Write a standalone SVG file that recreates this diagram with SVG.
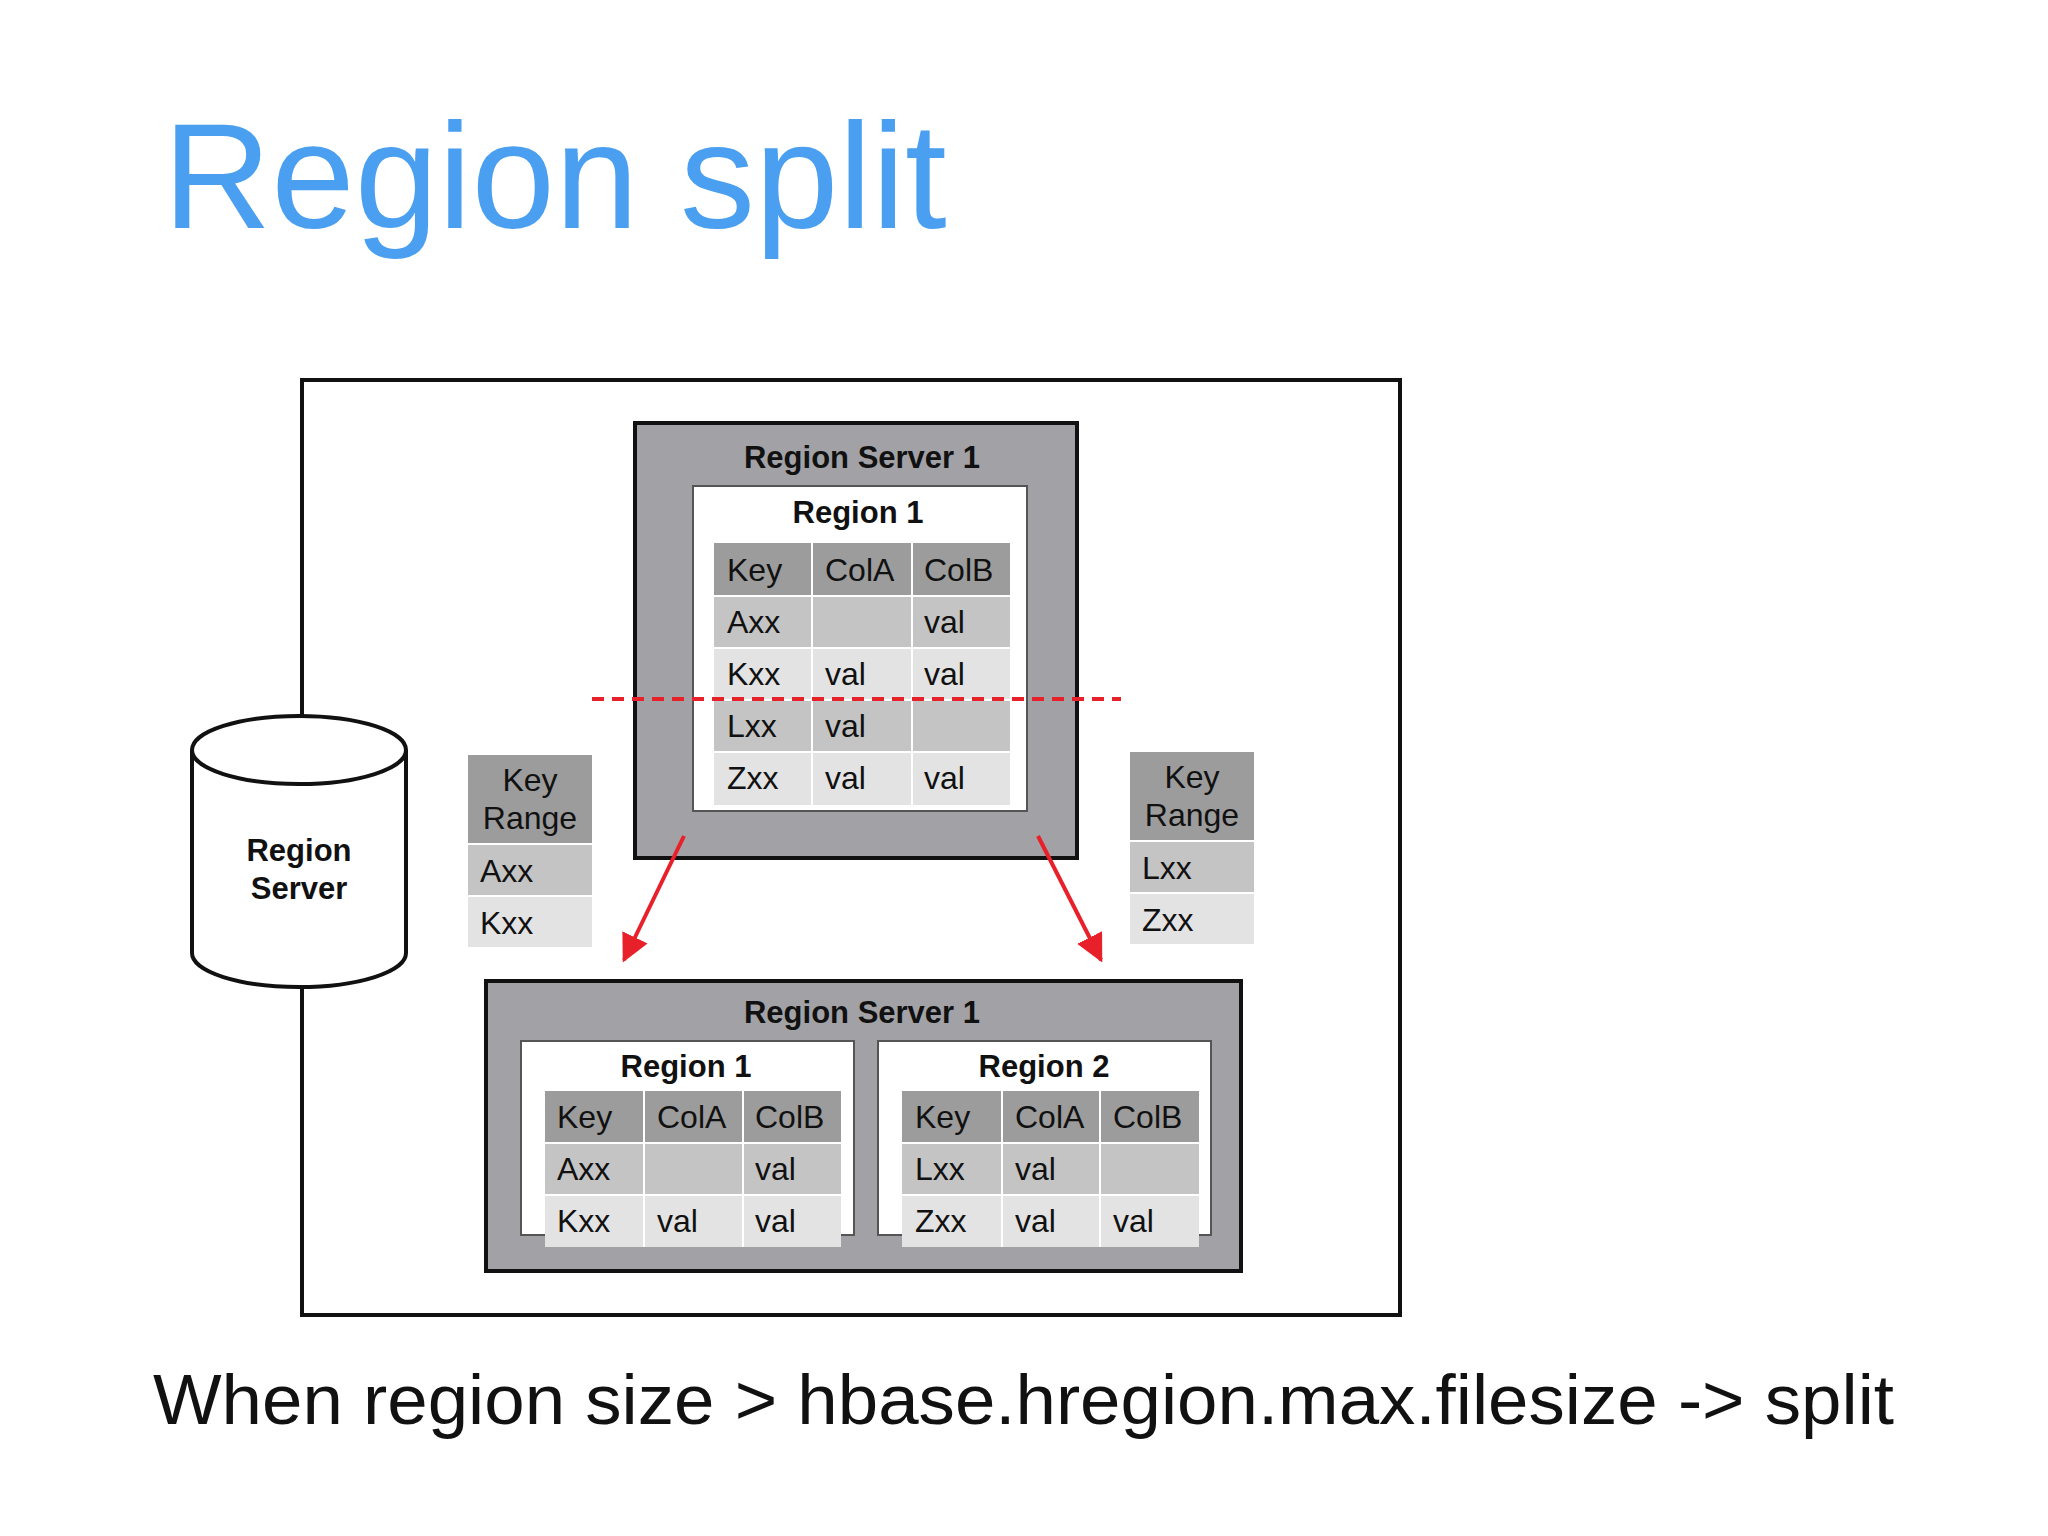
<svg xmlns="http://www.w3.org/2000/svg" width="2048" height="1536" viewBox="0 0 2048 1536">
<defs>
<style>
text{font-family:"Liberation Sans",Arial,sans-serif}
.b{font-weight:bold;font-size:31px;text-anchor:middle;fill:#111}
.c{font-size:32px;fill:#111}
.rs{fill:#a2a2a6;stroke:#111;stroke-width:4}
.wr{fill:#fff;stroke:#555;stroke-width:2}
.h{fill:#9c9c9c}.d{fill:#c4c4c4}.l{fill:#e3e3e3}
.g{stroke:#fff;stroke-width:2}
</style>
<marker id="ar" viewBox="0 0 10 10" refX="9" refY="5" markerWidth="7" markerHeight="7" orient="auto"><path d="M0,0L10,5L0,10z" fill="#e8202a"/></marker>
</defs>
<rect width="2048" height="1536" fill="#fff"/>
<text x="163" y="228" font-size="150" fill="#4a9ff0">Region split</text>
<rect id="frame" x="302" y="380" width="1098" height="935" fill="none" stroke="#111" stroke-width="4"/>
<g id="cyl">
<path d="M192,750 L192,953 A107,34 0 0 0 406,953 L406,750" fill="#fff" stroke="#111" stroke-width="4"/>
<ellipse cx="299" cy="750" rx="107" ry="34" fill="#fff" stroke="#111" stroke-width="4"/>
<text class="b" x="299" y="861">Region</text><text class="b" x="299" y="899">Server</text>
</g>
<g id="rs-top">
<rect class="rs" x="635" y="423" width="442" height="435"/>
<text class="b" x="862" y="468">Region Server 1</text>
<rect class="wr" x="693" y="486" width="334" height="325"/>
<text class="b" x="858" y="523">Region 1</text>
<rect class="h" x="714" y="543" width="296" height="53"/>
<rect class="d" x="714" y="596" width="296" height="52"/>
<rect class="l" x="714" y="648" width="296" height="52"/>
<rect class="d" x="714" y="700" width="296" height="52"/>
<rect class="l" x="714" y="752" width="296" height="53"/>
<path class="g" d="M812,543V805M912,543V805M714,596H1010M714,648H1010M714,700H1010M714,752H1010"/>
<g class="c"><text x="727" y="581">Key</text><text x="825" y="581">ColA</text><text x="924" y="581">ColB</text>
<text x="727" y="633">Axx</text><text x="924" y="633">val</text>
<text x="727" y="685">Kxx</text><text x="825" y="685">val</text><text x="924" y="685">val</text>
<text x="727" y="737">Lxx</text><text x="825" y="737">val</text>
<text x="727" y="789">Zxx</text><text x="825" y="789">val</text><text x="924" y="789">val</text></g>
</g>
<g id="kr-left">
<rect class="h" x="468" y="755" width="124" height="89"/><rect class="d" x="468" y="844" width="124" height="52"/><rect class="l" x="468" y="896" width="124" height="51"/>
<path class="g" d="M468,844H592M468,896H592"/>
<g class="c"><text x="530" y="791" text-anchor="middle">Key</text><text x="530" y="829" text-anchor="middle">Range</text><text x="480" y="882">Axx</text><text x="480" y="934">Kxx</text></g>
</g>
<g id="kr-right">
<rect class="h" x="1130" y="752" width="124" height="89"/><rect class="d" x="1130" y="841" width="124" height="52"/><rect class="l" x="1130" y="893" width="124" height="51"/>
<path class="g" d="M1130,841H1254M1130,893H1254"/>
<g class="c"><text x="1192" y="788" text-anchor="middle">Key</text><text x="1192" y="826" text-anchor="middle">Range</text><text x="1142" y="879">Lxx</text><text x="1142" y="931">Zxx</text></g>
</g>
<g id="rs-bottom">
<rect class="rs" x="486" y="981" width="755" height="290"/>
<text class="b" x="862" y="1023">Region Server 1</text>
<rect class="wr" x="521" y="1041" width="333" height="194"/>
<text class="b" x="686" y="1077">Region 1</text>
<rect class="h" x="545" y="1091" width="296" height="52"/><rect class="d" x="545" y="1143" width="296" height="52"/><rect class="l" x="545" y="1195" width="296" height="52"/>
<path class="g" d="M644,1091V1247M743,1091V1247M545,1143H841M545,1195H841"/>
<g class="c"><text x="557" y="1128">Key</text><text x="657" y="1128">ColA</text><text x="755" y="1128">ColB</text>
<text x="557" y="1180">Axx</text><text x="755" y="1180">val</text>
<text x="557" y="1232">Kxx</text><text x="657" y="1232">val</text><text x="755" y="1232">val</text></g>
<rect class="wr" x="878" y="1041" width="333" height="194"/>
<text class="b" x="1044" y="1077">Region 2</text>
<rect class="h" x="902" y="1091" width="297" height="52"/><rect class="d" x="902" y="1143" width="297" height="52"/><rect class="l" x="902" y="1195" width="297" height="52"/>
<path class="g" d="M1002,1091V1247M1100,1091V1247M902,1143H1199M902,1195H1199"/>
<g class="c"><text x="915" y="1128">Key</text><text x="1015" y="1128">ColA</text><text x="1113" y="1128">ColB</text>
<text x="915" y="1180">Lxx</text><text x="1015" y="1180">val</text>
<text x="915" y="1232">Zxx</text><text x="1015" y="1232">val</text><text x="1113" y="1232">val</text></g>
</g>
<g id="connectors" stroke="#e8202a" stroke-width="4" fill="none">
<path d="M592,699H1121" stroke-dasharray="12,8"/>
<path d="M684,836L624,960" marker-end="url(#ar)"/>
<path d="M1038,836L1101,960" marker-end="url(#ar)"/>
</g>
<text x="153" y="1424" font-size="70" fill="#111" textLength="1741" lengthAdjust="spacingAndGlyphs">When region size &gt; hbase.hregion.max.filesize -&gt; split</text>
</svg>
